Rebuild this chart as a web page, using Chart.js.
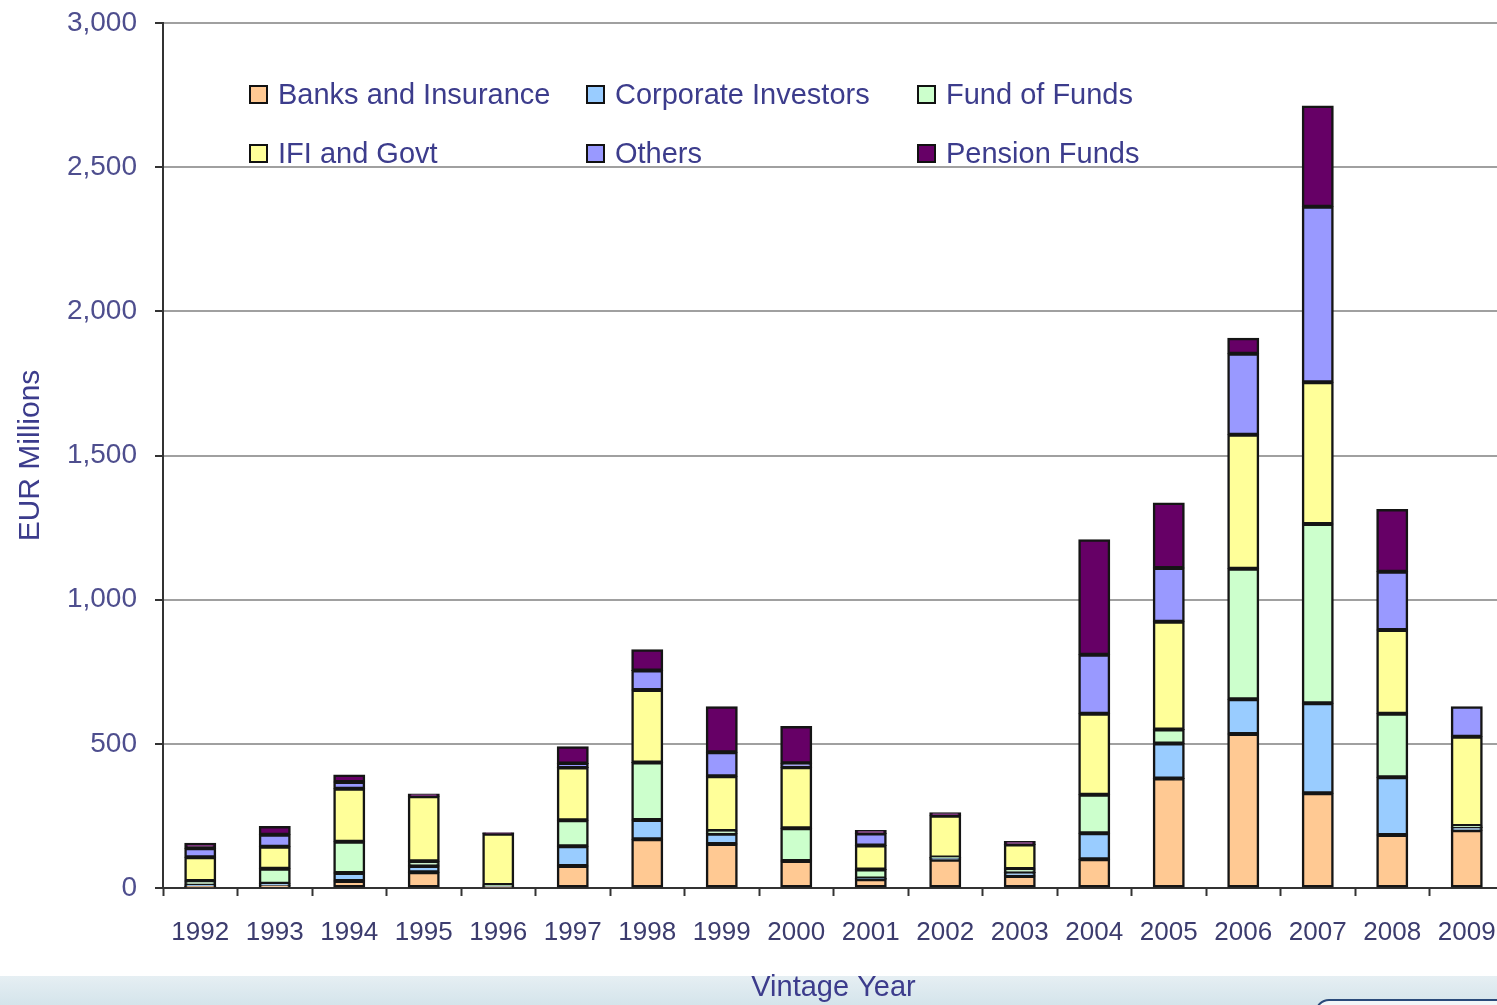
<!DOCTYPE html>
<html><head><meta charset="utf-8">
<script src="https://cdn.jsdelivr.net/npm/chart.js@4.4.0/dist/chart.umd.min.js"></script>
<style>
html{overflow:hidden;}
html,body{margin:0;padding:0;background:#fff;}
body{width:1520px;height:1005px;position:relative;}
#band{position:absolute;left:0;top:976px;width:1520px;height:29px;background:linear-gradient(#e6eff3,#d4e4eb);}
#corner{position:absolute;left:1315px;top:999px;width:220px;height:30px;border:2px solid #2a4a7a;border-radius:14px;background:#f2f7f9;}
#wrap{position:absolute;left:0;top:0;width:1510px;height:1005px;}
#c{width:1510px;height:1005px;}
#legend{position:absolute;left:0;top:0;}
.li{position:absolute;font:29px "Liberation Sans",Arial,sans-serif;color:#3c3c8c;white-space:nowrap;line-height:1;}
.sw{position:absolute;width:15px;height:15px;border:2px solid #111;}
</style></head><body>
<div id="band"></div><div id="corner"></div>
<div id="wrap"><canvas id="c" width="1510" height="1005"></canvas></div>
<div id="legend"></div>
<script>
const years = ['1992','1993','1994','1995','1996','1997','1998','1999','2000','2001','2002','2003','2004','2005','2006','2007','2008','2009'];
const banksInsurance     = [5, 8, 24, 55, 4, 76, 169, 153, 94, 30, 98, 42, 100, 380, 534, 329, 184, 200];
const corporateInvestors = [5, 7, 28, 21, 3, 69, 67, 35, 0, 3, 5, 12, 90, 121, 121, 312, 200, 10];
const fundOfFunds        = [14, 52, 108, 17, 3, 90, 199, 10, 113, 31, 3, 12, 133, 49, 452, 621, 220, 5];
const ifiAndGovt         = [83, 76, 184, 225, 178, 183, 252, 190, 212, 83, 145, 85, 281, 373, 465, 492, 291, 310];
const others             = [31, 42, 24, 0, 0, 14, 67, 83, 14, 42, 0, 0, 205, 187, 281, 609, 202, 104];
const pensionFunds       = [17, 28, 24, 8, 4, 58, 72, 158, 127, 10, 10, 10, 399, 225, 54, 349, 216, 0];
const seriesNames  = ['Banks and Insurance','Corporate Investors','Fund of Funds','IFI and Govt','Others','Pension Funds'];
const seriesColors = ['#ffc993','#99ccff','#ccffcc','#ffff99','#9999ff','#660066'];
const yTickValues  = [0, 500, 1000, 1500, 2000, 2500, 3000];
const yAxisTitle = 'EUR Millions';
const xAxisTitle = 'Vintage Year';

const seriesValues = [banksInsurance, corporateInvestors, fundOfFunds, ifiAndGovt, others, pensionFunds];
const FONT = '"Liberation Sans", Arial, sans-serif';

new Chart(document.getElementById('c'), {
  type: 'bar',
  data: {
    labels: years,
    datasets: seriesNames.map((n, i) => ({
      label: n, data: seriesValues[i], backgroundColor: seriesColors[i]
    }))
  },
  options: {
    responsive: false, animation: false,
    layout: { padding: { top: 23, right: 6, left: 0, bottom: 0 } },
    plugins: { legend: { display: false }, tooltip: { enabled: false } },
    datasets: { bar: { barThickness: 31, borderWidth: 2.5, borderColor: '#151515', borderSkipped: false, inflateAmount: 0.5 } },
    scales: {
      x: {
        stacked: true,
        grid: { display: true, drawOnChartArea: false, drawTicks: true, tickLength: 8, tickColor: '#333', tickWidth: 2, offset: true },
        border: { color: '#333', width: 2 },
        ticks: { font: { size: 26, family: FONT }, color: '#3c3c6e', padding: 21, maxRotation: 0, autoSkip: false },
        title: { display: true, text: xAxisTitle, font: { size: 29, family: FONT }, color: '#3c3c8c', padding: { top: 0, bottom: 0 } },
        afterFit(s) { s.height = 117; s.paddingLeft = 0; s.paddingRight = 0; }
      },
      y: {
        stacked: true, min: 0, max: 3000,
        afterBuildTicks(s) { s.ticks = yTickValues.map(v => ({ value: v })); },
        ticks: { font: { size: 28, family: FONT }, color: '#4e4e8e', padding: 18, callback: v => v.toLocaleString('en-US') },
        grid: { color: '#a0a0a0', lineWidth: 2, tickColor: '#333', tickLength: 8, tickWidth: 2 },
        border: { color: '#333', width: 2 },
        title: { display: true, text: yAxisTitle, font: { size: 30, family: FONT }, color: '#3c3c8c', padding: { top: 13, bottom: 0 } },
        afterFit(s) { s.width = 163; s.paddingTop = 0; s.paddingBottom = 0; }
      }
    }
  }
});

// legend (3 columns x 2 rows)
const legendCols = [249, 586, 917];
const legendRows = [85, 144];
const lg = document.getElementById('legend');
seriesNames.forEach((n, i) => {
  const x = legendCols[i % 3], y = legendRows[Math.floor(i / 3)];
  const sw = document.createElement('div');
  sw.className = 'sw'; sw.style.left = x + 'px'; sw.style.top = y + 'px'; sw.style.background = seriesColors[i];
  lg.appendChild(sw);
  const t = document.createElement('div');
  t.className = 'li'; t.textContent = n; t.style.left = (x + 29) + 'px'; t.style.top = (y - 5) + 'px';
  lg.appendChild(t);
});
</script>
</body></html>
